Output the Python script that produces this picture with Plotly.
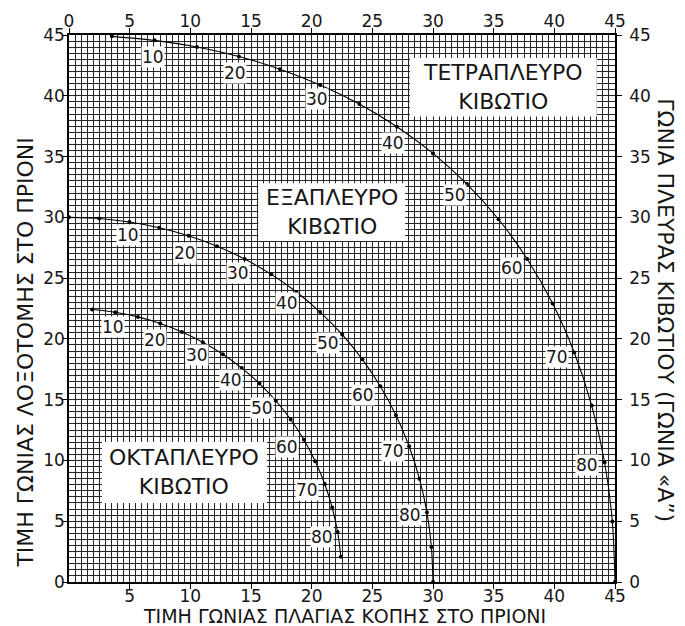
import plotly.graph_objects as go

# Side angle "A" (degrees) at each plotted dot
angles4 = [5, 10, 15, 20, 25, 30, 35, 40, 45, 50, 55, 60, 65, 70, 75, 80, 85, 90]
angles6 = [0, 5, 10, 15, 20, 25, 30, 35, 40, 45, 50, 55, 60, 65, 70, 75, 80, 85, 90]
angles8 = [5, 10, 15, 20, 25, 30, 35, 40, 45, 50, 55, 60, 65, 70, 75, 80, 85]

# Four-sided box: bevel (x) and miter (y)
tetra_bevel = [3.53, 7.05, 10.55, 14.0, 17.39, 20.7, 23.93, 27.03, 30.0, 32.8, 35.4,
               37.76, 39.86, 41.64, 43.08, 44.14, 44.78, 45.0]
tetra_miter = [44.89, 44.56, 44.01, 43.23, 42.19, 40.89, 39.32, 37.45, 35.26, 32.74,
               29.84, 26.57, 22.91, 18.88, 14.51, 9.85, 4.98, 0.0]

# Six-sided box
hexa_bevel = [0.0, 2.5, 4.98, 7.44, 9.85, 12.2, 14.48, 16.67, 18.75, 20.7, 22.52,
              24.18, 25.66, 26.95, 28.03, 28.88, 29.5, 29.87, 30.0]
hexa_miter = [30.0, 29.91, 29.62, 29.15, 28.48, 27.62, 26.57, 25.31, 23.86, 22.21,
              20.36, 18.32, 16.1, 13.71, 11.17, 8.5, 5.73, 2.88, 0.0]

# Eight-sided box
octa_bevel = [1.91, 3.81, 5.68, 7.52, 9.31, 11.03, 12.68, 14.24, 15.7, 17.05, 18.27,
              19.36, 20.29, 21.08, 21.69, 22.14, 22.41]
octa_miter = [22.42, 22.19, 21.81, 21.27, 20.57, 19.73, 18.74, 17.6, 16.32, 14.91,
              13.37, 11.7, 9.93, 8.06, 6.12, 4.11, 2.07]

label_angles = [10, 20, 30, 40, 50, 60, 70, 80]

# label anchor positions (data coords) for the angle numbers
tetra_lab_x = [6.92, 13.68, 20.44, 26.70, 31.81, 36.51, 40.22, 42.69]
tetra_lab_y = [43.19, 41.87, 39.73, 36.11, 31.84, 25.83, 18.51, 9.62]
hexa_lab_x = [4.86, 9.56, 13.93, 17.97, 21.35, 24.23, 26.70, 28.11]
hexa_lab_y = [28.55, 27.07, 25.42, 22.95, 19.66, 15.38, 10.78, 5.51]
octa_lab_x = [3.63, 7.09, 10.55, 13.35, 15.91, 17.97, 19.62, 20.85]
octa_lab_y = [20.98, 19.91, 18.67, 16.62, 14.31, 11.10, 7.57, 3.70]

ticks_all = [0, 5, 10, 15, 20, 25, 30, 35, 40, 45]
ticks_bottom = [5, 10, 15, 20, 25, 30, 35, 40, 45]

FONT = "DejaVu Sans"
GRID = "#262626"
INK = "#161616"

fig = go.Figure()
for xs, ys in [(tetra_bevel, tetra_miter), (hexa_bevel, hexa_miter), (octa_bevel, octa_miter)]:
    fig.add_trace(go.Scatter(
        x=xs, y=ys, mode="lines+markers",
        line=dict(color="black", width=1.1, shape="spline", smoothing=0.8),
        marker=dict(color="black", size=4),
        showlegend=False, hoverinfo="skip"))

# invisible trace to anchor the top/right axes
fig.add_trace(go.Scatter(x=[0, 45], y=[0, 45], xaxis="x2", yaxis="y2",
                         mode="markers", marker=dict(opacity=0),
                         showlegend=False, hoverinfo="skip"))

# white boxes for the box-type labels
boxes = [
    (28.1, 43.5, 38.3, 43.1, "ΤΕΤΡΑΠΛΕΥΡΟ<br>ΚΙΒΩΤΙΟ"),
    (15.6, 27.7, 28.05, 32.8, "ΕΞΑΠΛΕΥΡΟ<br>ΚΙΒΩΤΙΟ"),
    (2.72, 16.3, 6.5, 11.52, "ΟΚΤΑΠΛΕΥΡΟ<br>ΚΙΒΩΤΙΟ"),
]
for x0, x1, y0, y1, txt in boxes:
    fig.add_shape(type="rect", x0=x0, x1=x1, y0=y0, y1=y1, xref="x", yref="y",
                  fillcolor="white", line=dict(width=0), layer="above")
    fig.add_annotation(x=(x0 + x1) / 2, y=(y0 + y1) / 2, xref="x", yref="y",
                       text=txt, showarrow=False, xanchor="center", yanchor="middle",
                       font=dict(family=FONT, size=22, color=INK))

for lx, ly in [(tetra_lab_x, tetra_lab_y), (hexa_lab_x, hexa_lab_y), (octa_lab_x, octa_lab_y)]:
    for a, x, y in zip(label_angles, lx, ly):
        fig.add_annotation(x=x, y=y, xref="x", yref="y", text=str(a), showarrow=False,
                           bgcolor="white", borderpad=0,
                           xanchor="center", yanchor="middle",
                           font=dict(family=FONT, size=17, color=INK))

# axis titles
fig.add_annotation(x=-0.08, y=0.42, xref="paper", yref="paper", textangle=-90,
                   xanchor="center", yanchor="middle",
                   text="ΤΙΜΗ ΓΩΝΙΑΣ ΛΟΞΟΤΟΜΗΣ ΣΤΟ ΠΡΙΟΝΙ", showarrow=False,
                   font=dict(family=FONT, size=22, color=INK))
fig.add_annotation(x=1.093, y=0.497, xref="paper", yref="paper", textangle=90,
                   xanchor="center", yanchor="middle",
                   text="ΓΩΝΙΑ ΠΛΕΥΡΑΣ ΚΙΒΩΤΙΟΥ (ΓΩΝΙΑ «Α”)", showarrow=False,
                   font=dict(family=FONT, size=22, color=INK))
fig.add_annotation(x=0.504, y=-0.0625, xref="paper", yref="paper",
                   xanchor="center", yanchor="middle",
                   text="ΤΙΜΗ ΓΩΝΙΑΣ ΠΛΑΓΙΑΣ ΚΟΠΗΣ ΣΤΟ ΠΡΙΟΝΙ", showarrow=False,
                   font=dict(family=FONT, size=19, color=INK))

tickfont = dict(family=FONT, size=17, color=INK)
common = dict(range=[0, 45], showline=True, linecolor="black", linewidth=1.5,
              ticks="outside", ticklen=5, tickcolor="black", tickfont=tickfont,
              zeroline=False, fixedrange=True, automargin=False)

fig.update_layout(
    width=685, height=626,
    margin=dict(l=61, r=78, t=27, b=52, autoexpand=False),
    paper_bgcolor="white", plot_bgcolor="white",
    xaxis=dict(**common, tickvals=ticks_bottom, ticklabelstandoff=-7,
               showgrid=True, gridcolor=GRID, gridwidth=1,
               minor=dict(dtick=0.5, tick0=0, showgrid=True, gridcolor=GRID, gridwidth=1)),
    yaxis=dict(**common, tickvals=ticks_all, ticklabelstandoff=-6,
               showgrid=True, gridcolor=GRID, gridwidth=1,
               minor=dict(dtick=0.5, tick0=0, showgrid=True, gridcolor=GRID, gridwidth=1)),
    xaxis2=dict(**common, tickvals=ticks_all, ticklabelstandoff=-6,
                overlaying="x", side="top", anchor="y", showgrid=False),
    yaxis2=dict(**common, tickvals=ticks_all, ticklabelstandoff=4,
                overlaying="y", side="right", anchor="x", showgrid=False),
)

fig.write_html("out.html")
